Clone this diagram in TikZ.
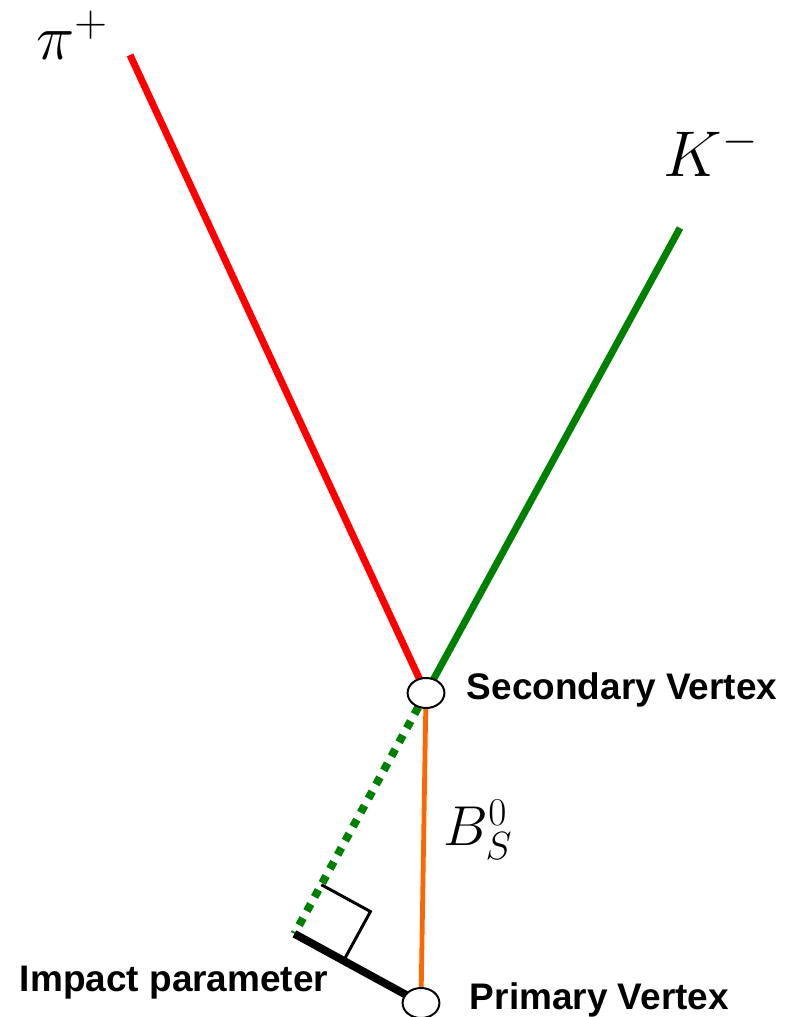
\RequirePackage{fix-cm}
\documentclass[tikz,border=0pt]{standalone}
\usepackage{fontspec}
\setsansfont{Liberation Sans}
\definecolor{pired}{RGB}{255,0,0}
\definecolor{kgreen}{RGB}{0,128,0}
\definecolor{bsorange}{RGB}{255,102,0}
\usetikzlibrary{calc, shapes.geometric, backgrounds}

\begin{document}
\begin{tikzpicture}[
  x=0.025cm, y=-0.025cm,
  vertex/.style={ellipse, draw, line width=1.4pt, fill=white,
                 minimum width=0.92cm, minimum height=0.75cm, inner sep=0pt},
  vlabel/.style={anchor=west, font=\fontsize{26.3}{30}\selectfont\sffamily\bfseries},
  track/.style={line width=5pt},
  particle/.style={font=\fontsize{46}{50}\selectfont}
]
  \useasboundingbox (0,0) rectangle (795,1017);

  % Vertices
  \node[vertex] (sv) at (426,693)  {};
  \node[vertex] (pv) at (421,1003) {};
  \coordinate (pitop) at (130,55);
  \coordinate (ktop)  at (680,228);

  % Impact parameter construction
  \coordinate (foot) at ($(sv)!(pv)!(ktop)$);
  \coordinate (ra1)  at ($(foot)!1.4cm!(sv)$);
  \coordinate (ra2)  at ($(foot)!1.4cm!(pv)$);
  \coordinate (racorner) at ($(ra1)+(ra2)-(foot)$);

  \begin{scope}[on background layer]
    % Tracks
    \draw[track, color=pired]  (pitop) -- (sv.center);
    \draw[track, color=kgreen] (ktop) -- (sv.center);
    \draw[line width=3.4pt, color=bsorange] (sv.center) -- (pv.center);
    % Extrapolated kaon track
    \draw[line width=5.7pt, color=kgreen, dash pattern=on 5.7pt off 5.7pt]
      (sv.center) -- (foot);
    \draw[line width=5.6pt] (foot) -- (pv.center);
    \draw[line width=2.1pt] (ra1) -- (racorner) -- (ra2);
  \end{scope}

  % Labels
  \node[particle] (pilab) at (72,35)  {$\pi^{+}$};
  \node[particle] (klab)  at (711,152) {$K^{-}$};
  \node[font=\fontsize{40}{44}\selectfont] (bslab) at (478,830) {$B_S^0$};
  \node[vlabel] (svlab) at (462,690)  {Secondary Vertex};
  \node[vlabel] (pvlab) at (465,1000) {Primary Vertex};
  \node[vlabel] (iplab) at (15,983)   {Impact parameter};
\end{tikzpicture}
\end{document}
